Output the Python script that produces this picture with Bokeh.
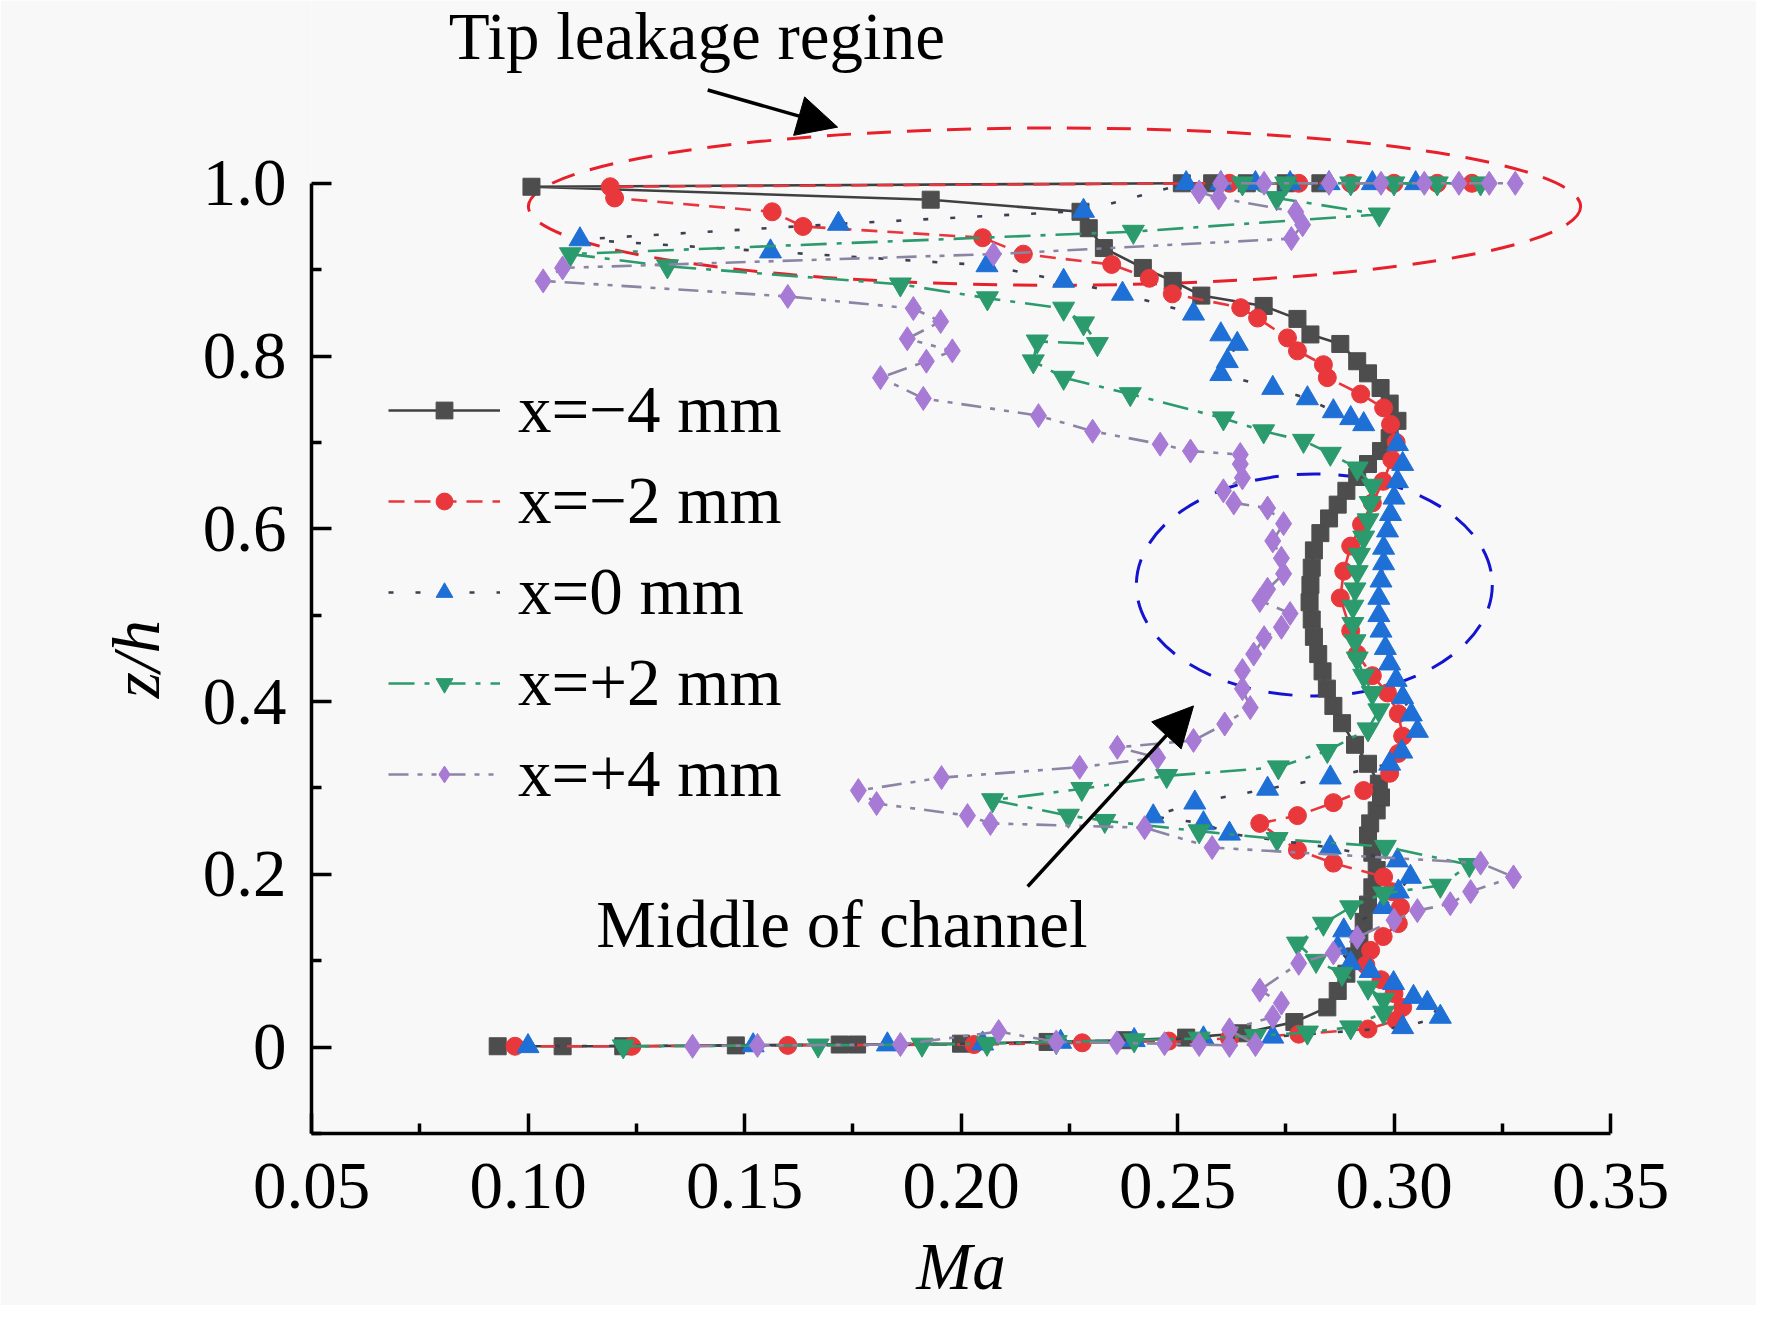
import math
from bokeh.plotting import figure
from bokeh.models import (LinearAxis, FixedTicker, Legend, LegendItem, Label,
                          Arrow, NormalHead, Range1d)
from bokeh.embed import file_html
from bokeh.resources import INLINE

FONT = "Liberation Serif"
FS = "67px"
BG = "#f8f8f8"

# ---------------- data ----------------
X_TICKS = [0.05, 0.10, 0.15, 0.20, 0.25, 0.30, 0.35]
X_TICK_LABELS = ["0.05", "0.10", "0.15", "0.20", "0.25", "0.30", "0.35"]
X_MINOR = [0.075, 0.125, 0.175, 0.225, 0.275, 0.325]
Y_TICKS = [0, 0.2, 0.4, 0.6, 0.8, 1.0]
Y_TICK_LABELS = ["0", "0.2", "0.4", "0.6", "0.8", "1.0"]
Y_MINOR = [-0.1, 0.1, 0.3, 0.5, 0.7, 0.9]

SERIES_LABELS = ["x=\u22124 mm", "x=\u22122 mm", "x=0 mm", "x=+2 mm", "x=+4 mm"]

MA_M4 = [0.093, 0.108, 0.122, 0.148, 0.172, 0.176, 0.200, 0.220, 0.238, 0.252, 0.265, 0.277, 0.2846,
         0.287, 0.289, 0.291, 0.292, 0.293, 0.294, 0.295, 0.296, 0.295, 0.294,
         0.2945, 0.296, 0.297, 0.2965, 0.294, 0.291, 0.288, 0.286, 0.2845, 0.2835,
         0.2825, 0.2815, 0.281, 0.2805, 0.2807, 0.281, 0.2815, 0.283, 0.285, 0.287,
         0.289, 0.2915, 0.294, 0.297, 0.299, 0.3008, 0.299, 0.2969, 0.294, 0.2915,
         0.2876, 0.2807, 0.2777, 0.2699, 0.2555, 0.2489, 0.242, 0.233, 0.2295, 0.2276,
         0.193, 0.1008, 0.251, 0.258, 0.266, 0.275, 0.283]
Z_M4 = [0.001, 0.001, 0.001, 0.002, 0.003, 0.003, 0.004, 0.006, 0.008, 0.011, 0.016, 0.029, 0.046,
        0.065, 0.085, 0.105, 0.125, 0.145, 0.165, 0.185, 0.205, 0.225, 0.245,
        0.259, 0.274, 0.289, 0.305, 0.328, 0.35, 0.375, 0.395, 0.415, 0.435,
        0.455, 0.475, 0.495, 0.515, 0.535, 0.555, 0.575, 0.595, 0.612, 0.628,
        0.644, 0.66, 0.675, 0.69, 0.705, 0.725, 0.745, 0.763, 0.78, 0.794,
        0.814, 0.825, 0.843, 0.858, 0.87, 0.887, 0.902, 0.925, 0.948, 0.967,
        0.981, 0.996, 1.0, 1.0, 1.0, 1.0, 1.0]

MA_M2 = [0.097, 0.124, 0.160, 0.203, 0.228, 0.248, 0.262, 0.278, 0.294, 0.3005,
         0.302, 0.300, 0.297, 0.2935, 0.2946, 0.2975, 0.301, 0.3015, 0.2995, 0.2976,
         0.286, 0.2777, 0.269, 0.2777, 0.286, 0.293, 0.299, 0.301, 0.302, 0.301,
         0.2985, 0.295, 0.2915, 0.290, 0.2876, 0.2884, 0.290, 0.2925, 0.295, 0.2975,
         0.2995, 0.3005, 0.2992, 0.2976, 0.2923, 0.2846, 0.2837, 0.2777, 0.2754, 0.2685,
         0.2646, 0.2488, 0.2435, 0.2348, 0.2144, 0.205, 0.1635, 0.1564, 0.120, 0.119,
         0.262, 0.278, 0.290, 0.300, 0.310, 0.318]
Z_M2 = [0.001, 0.001, 0.002, 0.003, 0.005, 0.007, 0.010, 0.015, 0.021, 0.031,
        0.046, 0.062, 0.078, 0.095, 0.112, 0.128, 0.143, 0.162, 0.180, 0.197,
        0.213, 0.228, 0.259, 0.268, 0.283, 0.297, 0.317, 0.340, 0.360, 0.386,
        0.410, 0.430, 0.455, 0.482, 0.520, 0.551, 0.580, 0.605, 0.630, 0.655,
        0.680, 0.700, 0.721, 0.740, 0.756, 0.775, 0.790, 0.806, 0.821, 0.844,
        0.856, 0.872, 0.890, 0.906, 0.918, 0.937, 0.950, 0.967, 0.983, 0.996,
        1.0, 1.0, 1.0, 1.0, 1.0, 1.0]

MA_0 = [0.100, 0.152, 0.183, 0.205, 0.223, 0.240, 0.256, 0.272, 0.302, 0.3107,
        0.3077, 0.3045, 0.2999, 0.2945, 0.290, 0.287, 0.2884, 0.2976, 0.301, 0.3038,
        0.3008, 0.2853, 0.262, 0.256, 0.2444, 0.254, 0.2708, 0.2853, 0.299, 0.3018,
        0.3054, 0.304, 0.302, 0.3005, 0.299, 0.298, 0.297, 0.2965, 0.2965, 0.297,
        0.2976, 0.2976, 0.2985, 0.2992, 0.300, 0.3008, 0.302, 0.3008, 0.293, 0.290,
        0.286, 0.280, 0.272, 0.260, 0.2615, 0.2638, 0.260, 0.2537, 0.2373, 0.2237,
        0.206, 0.156, 0.112, 0.1717, 0.2283,
        0.252, 0.260, 0.268, 0.276, 0.285, 0.295, 0.305]
Z_0 = [0.001, 0.002, 0.003, 0.004, 0.006, 0.008, 0.010, 0.012, 0.023, 0.035,
       0.051, 0.058, 0.074, 0.088, 0.097, 0.115, 0.135, 0.162, 0.180, 0.197,
       0.216, 0.231, 0.247, 0.259, 0.267, 0.283, 0.299, 0.312, 0.328, 0.342,
       0.366, 0.385, 0.405, 0.425, 0.444, 0.462, 0.482, 0.500, 0.520, 0.540,
       0.560, 0.578, 0.598, 0.617, 0.636, 0.655, 0.675, 0.698, 0.721, 0.728,
       0.736, 0.751, 0.763, 0.779, 0.794, 0.814, 0.825, 0.849, 0.872, 0.887,
       0.905, 0.921, 0.935, 0.953, 0.968,
       1.0, 1.0, 1.0, 1.0, 1.0, 1.0, 1.0]

MA_P2 = [0.122, 0.167, 0.191, 0.206, 0.222, 0.240, 0.255, 0.268, 0.280, 0.290,
         0.2976, 0.2976, 0.294, 0.288, 0.282, 0.2777, 0.2837, 0.290, 0.2976, 0.3107,
         0.3174, 0.298, 0.273, 0.255, 0.2332, 0.2248, 0.2073, 0.2279, 0.2475, 0.2733,
         0.2846, 0.294, 0.2965, 0.295, 0.293, 0.2915, 0.291, 0.2905, 0.2905, 0.291,
         0.2915, 0.292, 0.293, 0.294, 0.2945, 0.295, 0.2915, 0.2853, 0.2791, 0.2699,
         0.2606, 0.2391, 0.2237, 0.2167, 0.2176, 0.2315, 0.2283, 0.2237, 0.2061, 0.186,
         0.1322, 0.1098, 0.2398, 0.2966, 0.2729,
         0.265, 0.275, 0.290, 0.300, 0.310, 0.320]
Z_P2 = [0.001, 0.002, 0.003, 0.004, 0.006, 0.008, 0.010, 0.013, 0.017, 0.023,
        0.040, 0.055, 0.069, 0.085, 0.100, 0.120, 0.143, 0.162, 0.178, 0.187,
        0.211, 0.232, 0.241, 0.250, 0.262, 0.268, 0.286, 0.299, 0.314, 0.324,
        0.343, 0.368, 0.390, 0.410, 0.430, 0.450, 0.470, 0.490, 0.510, 0.530,
        0.550, 0.570, 0.590, 0.610, 0.630, 0.650, 0.670, 0.687, 0.702, 0.713,
        0.728, 0.756, 0.775, 0.794, 0.817, 0.814, 0.838, 0.855, 0.867, 0.883,
        0.904, 0.918, 0.944, 0.964, 0.983,
        1.0, 1.0, 1.0, 1.0, 1.0, 1.0]

MA_P4 = [0.138, 0.153, 0.186, 0.2087, 0.222, 0.236, 0.247, 0.255, 0.262, 0.268,
         0.262, 0.272, 0.274, 0.269, 0.278, 0.286, 0.2915, 0.300, 0.3054, 0.313,
         0.3177, 0.3276, 0.320, 0.258, 0.2424, 0.2068, 0.2015, 0.1805, 0.1763, 0.1955,
         0.2274, 0.2454, 0.2361, 0.2537, 0.2609, 0.2668, 0.265, 0.265, 0.2676, 0.270,
         0.274, 0.276, 0.269, 0.2708, 0.2745, 0.274, 0.272, 0.2745, 0.2708, 0.263,
         0.2606, 0.265, 0.2645, 0.2645, 0.253, 0.246, 0.2304, 0.2179, 0.1913, 0.1814,
         0.192, 0.198, 0.1876, 0.1953, 0.189, 0.160, 0.1035, 0.108, 0.2075, 0.2763,
         0.2789, 0.2773, 0.2595, 0.255,
         0.260, 0.270, 0.285, 0.297, 0.307, 0.315, 0.322, 0.328]
Z_P4 = [0.001, 0.002, 0.003, 0.018, 0.006, 0.005, 0.004, 0.003, 0.002, 0.003,
        0.020, 0.035, 0.051, 0.066, 0.097, 0.109, 0.127, 0.147, 0.158, 0.166,
        0.180, 0.197, 0.213, 0.231, 0.254, 0.259, 0.268, 0.282, 0.297, 0.312,
        0.324, 0.335, 0.347, 0.355, 0.374, 0.393, 0.415, 0.436, 0.455, 0.474,
        0.486, 0.502, 0.517, 0.530, 0.548, 0.566, 0.586, 0.606, 0.624, 0.630,
        0.644, 0.659, 0.675, 0.686, 0.690, 0.698, 0.713, 0.731, 0.751, 0.775,
        0.794, 0.806, 0.820, 0.840, 0.855, 0.869, 0.887, 0.902, 0.918, 0.936,
        0.952, 0.967, 0.983, 0.990,
        1.0, 1.0, 1.0, 1.0, 1.0, 1.0, 1.0, 1.0]

# annotations
TIP_TEXT = "Tip leakage regine"
MID_TEXT = "Middle of channel"
TIP_ELLIPSE = dict(x=0.2216, y=0.973, w=0.243, h=0.182)
MID_ELLIPSE = dict(x=0.2816, y=0.535, w=0.0822, h=0.257)

# ---------------- figure ----------------
p = figure(width=1756, height=1305,
           x_range=Range1d(0.05, 0.35), y_range=Range1d(-0.1, 1.2116),
           x_axis_type=None, y_axis_type=None,
           output_backend="svg", toolbar_location=None,
           min_border_left=311, min_border_right=146,
           min_border_top=0, min_border_bottom=172,
           background_fill_color=BG, border_fill_color=BG,
           outline_line_color=None)

axis_style = dict(axis_line_width=3.5, axis_line_color="black",
                  major_tick_in=20, major_tick_out=0,
                  minor_tick_in=10, minor_tick_out=0,
                  major_tick_line_width=3.5, minor_tick_line_width=3.5,
                  major_tick_line_color="black", minor_tick_line_color="black",
                  major_label_text_font=FONT, major_label_text_font_size=FS,
                  major_label_text_color="black",
                  axis_label_text_font=FONT, axis_label_text_font_size=FS,
                  axis_label_text_font_style="italic", axis_label_text_color="black")

xaxis = LinearAxis(ticker=FixedTicker(ticks=X_TICKS, minor_ticks=X_MINOR),
                   major_label_overrides=dict(zip(X_TICKS, X_TICK_LABELS)),
                   major_label_standoff=30, axis_label="Ma",
                   axis_label_standoff=18, **axis_style)
p.add_layout(xaxis, "below")

# trailing no-break spaces shift the visible title to the centre of the bounded axis
yaxis = LinearAxis(ticker=FixedTicker(ticks=Y_TICKS, minor_ticks=Y_MINOR),
                   major_label_overrides=dict(zip(Y_TICKS, Y_TICK_LABELS)),
                   bounds=(-0.1, 1.0), axis_label="z/h" + "\u00a0" * 11,
                   major_label_standoff=25, axis_label_standoff=27, **axis_style)
p.add_layout(yaxis, "left")

# ellipses
p.ellipse(x=[TIP_ELLIPSE["x"]], y=[TIP_ELLIPSE["y"]], width=[TIP_ELLIPSE["w"]],
          height=[TIP_ELLIPSE["h"]], fill_color=None, line_color="#e8202c",
          line_width=3, line_dash="24 16")
p.ellipse(x=[MID_ELLIPSE["x"]], y=[MID_ELLIPSE["y"]], width=[MID_ELLIPSE["w"]],
          height=[MID_ELLIPSE["h"]], fill_color=None, line_color="#1414d0",
          line_width=3, line_dash="24 18")

series = [
    (MA_M4, Z_M4, "#404040", "#4d4d4d", "solid", "square", 17),
    (MA_M2, Z_M2, "#e8363e", "#e8383c", "16 10", "circle", 18),
    (MA_0, Z_0, "#3c4050", "#1e6fd6", "5 22", "triangle", 22),
    (MA_P2, Z_P2, "#2b9a6c", "#2b9a6c", "26 10 5 10", "inverted_triangle", 22),
    (MA_P4, Z_P4, "#8c84a4", "#a77ad6", "20 9 5 9 5 9", "diamond", 24),
]

items = []
for (mx, zy, lc, mc, dash, marker, size), lab in zip(series, SERIES_LABELS):
    if len(mx) != len(zy):
        raise ValueError("length mismatch for %s" % lab)
    l = p.line(mx, zy, line_color=lc, line_width=2.6, line_dash=dash)
    s = p.scatter(mx, zy, marker=marker, size=size, fill_color=mc, line_color=mc)
    items.append(LegendItem(label=lab, renderers=[l, s]))

legend = Legend(items=items, location=(77, 321), orientation="vertical",
                glyph_width=112, glyph_height=42, label_standoff=18,
                label_text_font=FONT, label_text_font_size=FS,
                label_text_color="black",
                spacing=14, padding=0, margin=0,
                border_line_color=None, background_fill_alpha=0)
p.add_layout(legend)

# texts & arrows
p.add_layout(Label(x=0.1390, y=1.170, text=TIP_TEXT, text_align="center",
                   text_baseline="alphabetic", text_font=FONT,
                   text_font_size=FS, text_color="black"))
p.add_layout(Label(x=0.1725, y=0.142, text=MID_TEXT, text_align="center",
                   text_baseline="alphabetic", text_font=FONT,
                   text_font_size=FS, text_color="black"))
p.add_layout(Arrow(x_start=0.1415, y_start=1.108, x_end=0.1715, y_end=1.065,
                   line_width=3.5, line_color="black",
                   end=NormalHead(size=40, fill_color="black", line_color="black")))
p.add_layout(Arrow(x_start=0.2154, y_start=0.186, x_end=0.2537, y_end=0.395,
                   line_width=3.5, line_color="black",
                   end=NormalHead(size=40, fill_color="black", line_color="black")))

open("out.html", "w").write(file_html(p, INLINE))
